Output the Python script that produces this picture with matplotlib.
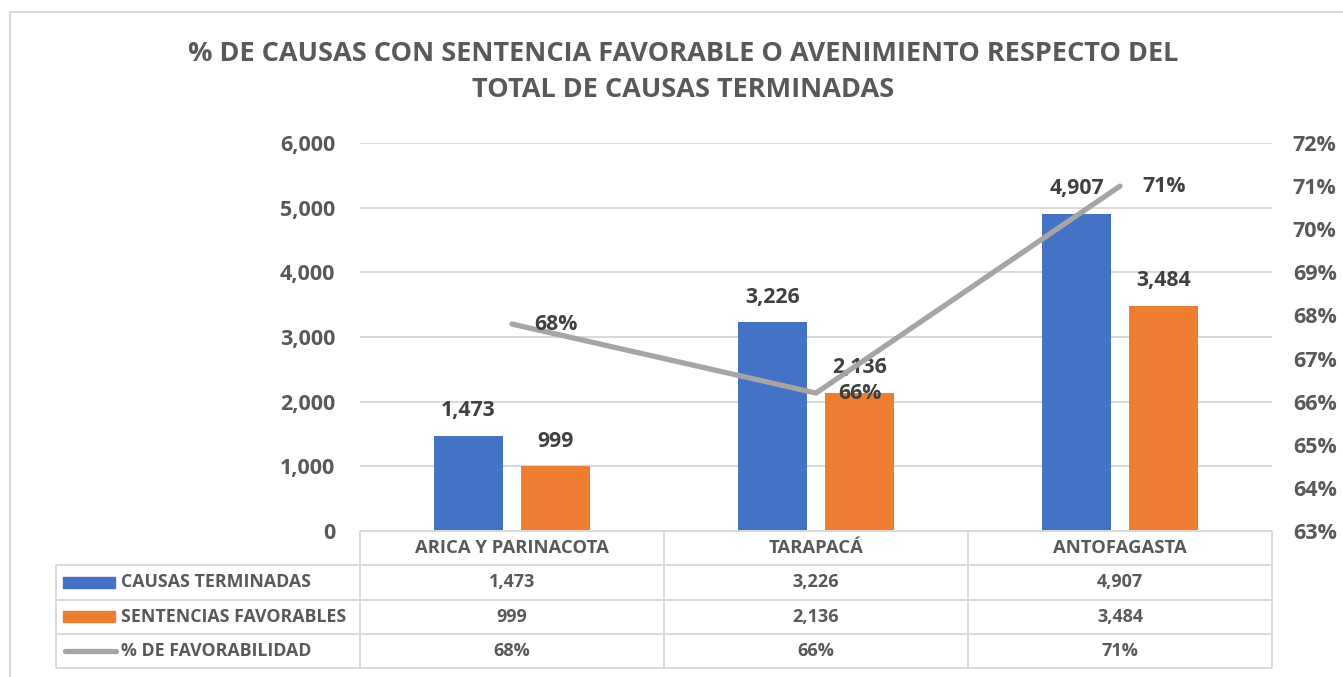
import numpy as np
import matplotlib
matplotlib.use("Agg")
from matplotlib import pyplot as plt
from matplotlib.lines import Line2D
from matplotlib.patches import Rectangle
import matplotlib.ticker as ticker

plt.rcParams['font.family'] = ['Open Sans', 'DejaVu Sans']
plt.rcParams['font.weight'] = 'bold'

# regiones y series
regiones = ['ARICA Y PARINACOTA', 'TARAPACÁ', 'ANTOFAGASTA']
causas_terminadas = [1473, 3226, 4907]
sentencias_favorables = [999, 2136, 3484]
pct_favorabilidad = [67.8, 66.2, 71.0]

serie_causas = 'CAUSAS TERMINADAS'
serie_sentencias = 'SENTENCIAS FAVORABLES'
serie_pct = '% DE FAVORABILIDAD'

titulo = '% DE CAUSAS CON SENTENCIA FAVORABLE O AVENIMIENTO RESPECTO DEL\nTOTAL DE CAUSAS TERMINADAS'

AZUL = '#4472C4'
NARANJA = '#ED7D31'
GRIS = '#A5A5A5'
TEXTO = '#595959'
ETIQ = '#404040'
LINEA = '#D9D9D9'

W, H = 1343, 677
fig = plt.figure(figsize=(W / 100, H / 100), dpi=100)

def fx(px):
    return px / W

def fy(py):
    return 1 - py / H

# borde del grafico
fig.add_artist(Line2D([fx(10), fx(10), fx(1343)], [fy(677), fy(12), fy(12)],
                      color=LINEA, lw=1.5))

fig.text(fx(683), fy(72), titulo, ha='center', va='center', fontsize=19.5,
         color=TEXTO, fontweight='bold', linespacing=1.52)

# area de barras
ax = fig.add_axes([fx(360), fy(531), fx(1272) - fx(360), fy(143) - fy(531)])
x = np.arange(len(regiones))
ancho = 0.227
desp = 0.143
b1 = ax.bar(x - desp, causas_terminadas, ancho, color=AZUL, zorder=2)
b2 = ax.bar(x + desp, sentencias_favorables, ancho, color=NARANJA, zorder=2)
ax.set_xlim(-0.5, 2.5)
ax.set_ylim(0, 6000)
ax.yaxis.set_major_locator(ticker.MultipleLocator(1000))
ax.yaxis.set_major_formatter(ticker.FuncFormatter(lambda v, p: f'{int(v):,}'))
ax.set_xticks([])
ax.grid(axis='y', color=LINEA, lw=1.4, zorder=0)
ax.tick_params(axis='y', length=0, pad=18, labelsize=15.5, labelcolor=TEXTO)
for s in ax.spines.values():
    s.set_visible(False)

for barras, vals in ((b1, causas_terminadas), (b2, sentencias_favorables)):
    for rect, v in zip(barras, vals):
        ax.annotate(f'{v:,}', (rect.get_x() + rect.get_width() / 2, v),
                    xytext=(0, 18), textcoords='offset points', ha='center',
                    va='center', fontsize=15.3, color=ETIQ, fontweight='bold')

ax2 = ax.twinx()
ax2.plot(x, pct_favorabilidad, color=GRIS, lw=3.8, solid_capstyle='round', zorder=3)
ax2.set_ylim(63, 72)
ax2.yaxis.set_major_locator(ticker.MultipleLocator(1))
ax2.yaxis.set_major_formatter(ticker.FuncFormatter(lambda v, p: f'{v:.0f}%'))
ax2.tick_params(axis='y', length=0, pad=15, labelsize=15.5, labelcolor=TEXTO)
for s in ax2.spines.values():
    s.set_visible(False)
for xi, v in zip(x, pct_favorabilidad):
    ax2.annotate(f'{v:.0f}%', (xi, v), xytext=(16, 0), textcoords='offset points',
                 ha='left', va='center', fontsize=15.3, color=ETIQ, fontweight='bold')

# tabla de datos
tb = fig.add_axes([fx(56), fy(668), fx(1272) - fx(56), fy(531) - fy(668)])
tb.set_xlim(-1.5, 2.5)
tb.set_ylim(4, 0)
tb.axis('off')
kw = dict(color=LINEA, lw=1.4, clip_on=False)
tb.hlines(0, -0.5, 2.5, **kw)
tb.hlines([1, 2, 3, 4], -1.5, 2.5, **kw)
tb.vlines([-0.5, 0.5, 1.5, 2.5], 0, 4, **kw)
tb.vlines(-1.5, 1, 4, **kw)

for i, r in enumerate(regiones):
    tb.text(i, 0.5, r, ha='center', va='center', fontsize=13.3, color=TEXTO)
filas = [causas_terminadas, sentencias_favorables]
for j, fila in enumerate(filas):
    for i, v in enumerate(fila):
        tb.text(i, j + 1.5, f'{v:,}', ha='center', va='center', fontsize=13, color=TEXTO)
for i, v in enumerate(pct_favorabilidad):
    tb.text(i, 3.5, f'{v:.0f}%', ha='center', va='center', fontsize=13, color=TEXTO)

# claves de la leyenda
k0, k1 = -1.5 + 7 / 304, -1.5 + 59 / 304
tb.add_patch(Rectangle((k0, 1.35), k1 - k0, 0.3, color=AZUL, clip_on=False))
tb.add_patch(Rectangle((k0, 2.35), k1 - k0, 0.3, color=NARANJA, clip_on=False))
tb.plot([k0 + 0.005, k1 + 0.003], [3.5, 3.5], color=GRIS, lw=3.8,
        solid_capstyle='round', clip_on=False)
xt = -1.5 + 65 / 304
for j, nombre in enumerate([serie_causas, serie_sentencias, serie_pct]):
    tb.text(xt, j + 1.5, nombre, ha='left', va='center', fontsize=12.8, color=TEXTO)

fig.savefig('out.png', dpi=100)
